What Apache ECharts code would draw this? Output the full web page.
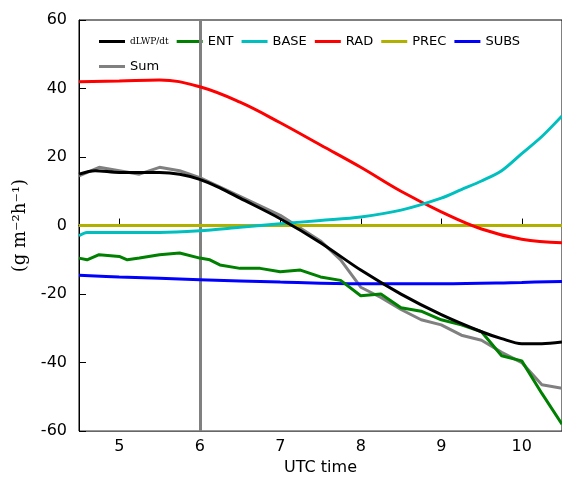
<html><head><meta charset="utf-8">
<script src="https://cdn.jsdelivr.net/npm/echarts@6/dist/echarts.min.js"></script>
<style>body{margin:0;background:#fff}#c{width:562px;height:481px}</style></head><body>
<div id="c"></div>
<script>
var dlwp = [[4.5,15],[4.7,16],[5,15.5],[5.5,15.5],[5.75,15],[6,13.5],[6.25,11],[6.5,8],[7,2],[7.5,-5],[8,-13],[8.5,-20],[9,-26],[9.5,-31],[9.75,-33],[10,-34.5],[10.25,-34.5],[10.5,-34]];
var ent = [[4.5,-9.5],[4.6,-10],[4.75,-8.5],[5,-9],[5.1,-10],[5.25,-9.5],[5.5,-8.5],[5.75,-8],[6,-9.5],[6.125,-10],[6.25,-11.5],[6.5,-12.5],[6.75,-12.5],[7,-13.5],[7.25,-13],[7.5,-15],[7.75,-16],[8,-20.5],[8.25,-20],[8.5,-24],[8.75,-25],[9,-27.5],[9.25,-29],[9.5,-31],[9.75,-38],[10,-39.5],[10.25,-49],[10.5,-58]];
var base = [[4.5,-3],[4.6,-2],[5,-2],[5.5,-2],[6,-1.5],[6.5,-0.5],[7,0.5],[7.5,1.5],[8,2.5],[8.5,4.5],[9,8],[9.25,10.5],[9.5,13],[9.75,16],[10,21],[10.25,26],[10.5,32]];
var rad = [[4.5,42],[5,42.2],[5.5,42.5],[6,40.5],[6.5,36],[7,30],[7.5,23.5],[8,17],[8.5,10],[9,4],[9.5,-1],[10,-4],[10.5,-5]];
var prec = [[4.5,0],[10.5,0]];
var subs = [[4.5,-14.5],[5,-15],[6,-15.8],[7,-16.5],[8,-17],[9,-17],[10,-16.6],[10.5,-16.3]];
var sum = [[4.5,14.5],[4.75,17],[5,16],[5.25,15],[5.5,17],[5.75,16],[6,14],[6.5,8.5],[7,3],[7.5,-4.5],[7.75,-10],[8,-18],[8.25,-21],[8.5,-24.5],[8.75,-27.5],[9,-29],[9.25,-32],[9.5,-33.5],[9.75,-37],[10,-40],[10.25,-46.5],[10.5,-47.5]];
var xTicks = [5, 6, 7, 8, 9, 10];
var names = ['dLWP','ENT','BASE','RAD','PREC','SUBS','Sum'];
var colors = ['#000000','#008000','#00bfbf','#ff0000','#b0b000','#0000ff','#808080'];
var smooth = [0.3, false, 0.3, 0.4, false, 0.4, false];
var datas = [dlwp,ent,base,rad,prec,subs,sum];
var chart = echarts.init(document.getElementById('c'));
var series = names.map(function (n, i) {
    var s = {name: n, type: 'line', data: datas[i], symbol: 'none', smooth: smooth[i], lineStyle: {width: 3, color: colors[i]}, itemStyle: {color: colors[i]}, z: 10 - i};
    if (i === 0) s.markLine = {silent: true, symbol: 'none', label: {show: false}, lineStyle: {color: '#808080', width: 3, type: 'solid'}, data: [{xAxis: 6}]};
    return s;
});
chart.setOption({
    animation: false,
    grid: {left: 79, width: 486, top: 20, bottom: 43, show: true, borderColor: '#000', borderWidth: 1},
    legend: [{
        data: names.slice(0, 6), left: 94, top: 30, itemWidth: 26, itemHeight: 3, itemGap: 8,
        icon: 'rect',
        formatter: function (n) { return n === 'dLWP' ? '{f|dLWP/dt}' : n; },
        textStyle: {fontSize: 13, fontFamily: 'DejaVu Sans', color: '#000', rich: {f: {fontSize: 9, fontFamily: 'DejaVu Serif'}}}
    }, {
        data: ['Sum'], left: 94, top: 55, itemWidth: 26, itemHeight: 3, icon: 'rect',
        textStyle: {fontSize: 13, fontFamily: 'DejaVu Sans', color: '#000'}
    }],
    xAxis: {type: 'value', min: 4.5, max: 10.5,
        name: 'UTC time', nameLocation: 'middle', nameGap: 25,
        nameTextStyle: {fontSize: 16, fontFamily: 'DejaVu Sans', color: '#000'},
        axisLine: {lineStyle: {color: '#000'}},
        axisTick: {inside: true, length: 7, customValues: xTicks, lineStyle: {color: '#000'}},
        splitLine: {show: false},
        axisLabel: {fontSize: 16, fontFamily: 'DejaVu Sans', color: '#000', customValues: xTicks}
    },
    yAxis: {type: 'value', min: -60, max: 60, interval: 20,
        name: '(g m\u207B\u00B2h\u207B\u00B9)', nameLocation: 'middle', nameGap: 50, nameRotate: 90,
        nameTextStyle: {fontSize: 18, fontFamily: 'DejaVu Serif', color: '#000'},
        axisLine: {show: true, lineStyle: {color: '#000'}}, axisTick: {inside: true, length: 7, lineStyle: {color: '#000'}},
        splitLine: {show: false},
        axisLabel: {fontSize: 16, fontFamily: 'DejaVu Sans', color: '#000', margin: 12}
    },
    series: series
});
</script></body></html>
